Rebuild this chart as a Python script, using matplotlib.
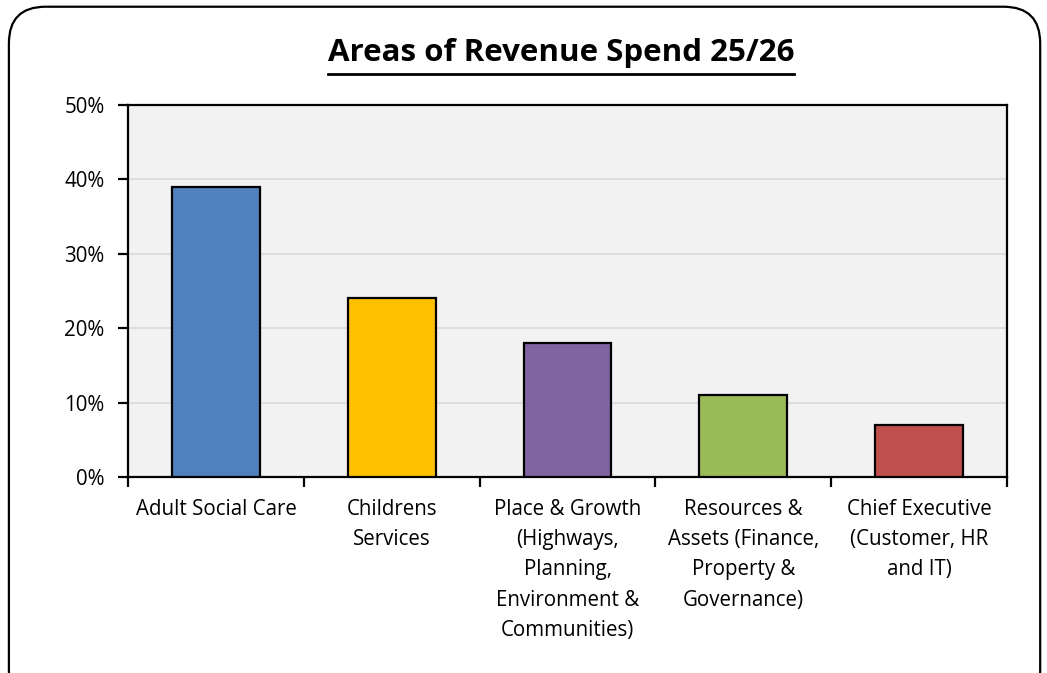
import matplotlib
matplotlib.use("Agg")
import matplotlib.pyplot as plt
from matplotlib.patches import FancyBboxPatch
from matplotlib.ticker import FuncFormatter, MultipleLocator, FixedLocator, NullFormatter

# Revenue spend share by directorate
categories = [
    "Adult Social Care",
    "Childrens\nServices",
    "Place & Growth\n(Highways,\nPlanning,\nEnvironment &\nCommunities)",
    "Resources &\nAssets (Finance,\nProperty &\nGovernance)",
    "Chief Executive\n(Customer, HR\nand IT)",
]
spend_pct = [39, 24, 18, 11, 7]
bar_colors = ["#4F81BD", "#FFC000", "#8064A2", "#9BBB59", "#C0504D"]

plt.rcParams["font.family"] = ["Open Sans", "DejaVu Sans"]

fig = plt.figure(figsize=(10.47, 6.73), dpi=100)
ax = fig.add_axes([0.1223, 0.2912, 0.8395, 0.5528])

# outer rounded frame
frame = FancyBboxPatch((0.0085, -0.05), 0.985, 1.04,
                       boxstyle="round,pad=0,rounding_size=0.035",
                       transform=fig.transFigure, fill=False,
                       edgecolor="black", linewidth=1.6,
                       mutation_aspect=1047 / 673)
fig.patches.append(frame)

x = range(len(categories))
ax.bar(x, spend_pct, width=0.5, color=bar_colors, edgecolor="black",
       linewidth=1.6, zorder=3)

ax.set_facecolor("#F2F2F2")
ax.set_xlim(-0.5, len(categories) - 0.5)
ax.set_ylim(0, 50)
ax.yaxis.set_major_locator(MultipleLocator(10))
ax.yaxis.set_major_formatter(FuncFormatter(lambda v, p: f"{v:.0f}%"))
ax.grid(axis="y", color="#D9D9D9", linewidth=1.2, zorder=0)

# category boundary ticks with labels centred under each bar
ax.xaxis.set_major_locator(FixedLocator([i - 0.5 for i in range(len(categories) + 1)]))
ax.xaxis.set_major_formatter(NullFormatter())
ax.xaxis.set_minor_locator(FixedLocator(list(x)))
ax.set_xticklabels(categories, minor=True, fontsize=14.8, linespacing=1.57,
                   va="top")
ax.tick_params(axis="x", which="minor", length=0, pad=16)
ax.tick_params(axis="x", which="major", length=7, width=1.6, direction="out")
ax.tick_params(axis="y", length=7, width=1.6, labelsize=14.8, pad=10)

for s in ax.spines.values():
    s.set_linewidth(1.6)
    s.set_color("black")

title = fig.text(0.536, 0.921, "Areas of Revenue Spend 25/26", ha="center",
                 va="center", fontsize=22.5, fontweight="bold")

# underline the title across its drawn width
fig.canvas.draw()
bb = title.get_window_extent().transformed(fig.transFigure.inverted())
fig.add_artist(plt.Line2D([bb.x0, bb.x1], [0.8905, 0.8905],
                          transform=fig.transFigure, color="black",
                          linewidth=2))

fig.savefig("out.png", dpi=100)
